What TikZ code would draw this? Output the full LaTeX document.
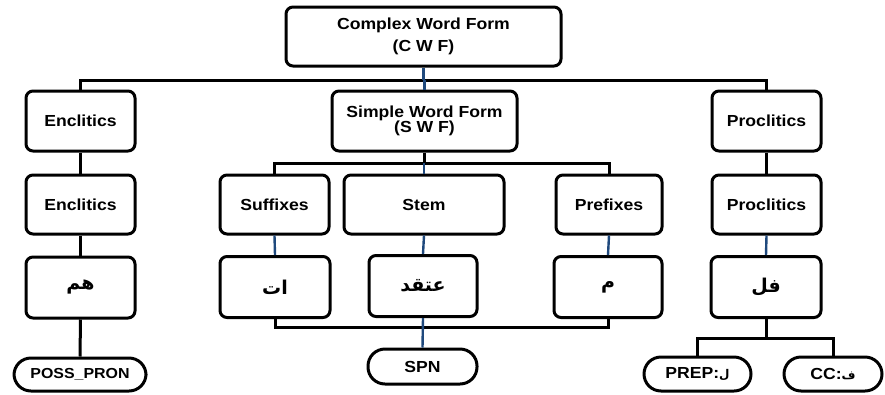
\documentclass[tikz,border=0pt]{standalone}
\usepackage{fontspec}
\setmainfont{Liberation Sans}[FakeStretch=1.1]
\newfontfamily\arabicfont[Script=Arabic]{DejaVu Sans}
\TeXXeTstate=1
\definecolor{navy}{HTML}{1F497D}
\begin{document}
\begin{tikzpicture}[x=1pt,y=-1pt,
  box/.style={draw=black,line width=3pt,rounded corners=7pt,fill=white,
    inner sep=0pt,align=center,font=\fontsize{16}{15}\selectfont\bfseries},
  pill/.style={box,rounded corners=17pt},
  blk/.style={draw=black,line width=3pt},
  blu/.style={draw=navy,line width=2.4pt},
  ar/.style={font=\fontsize{19}{20}\selectfont\arabicfont\bfseries}]
\useasboundingbox (0,0) rectangle (885,394);
% row 0
\node[box,minimum width=275pt,minimum height=59pt,font=\fontsize{16}{22}\selectfont\bfseries] (cwf) at (423.5,36.5)
  {Complex Word Form\\(C W F)};
% row 1
\node[box,minimum width=109pt,minimum height=60pt] (encA) at (80.5,121) {Enclitics};
\node[box,minimum width=185pt,minimum height=60pt] (swf) at (424.5,121) {Simple Word Form\\(S W F)};
\node[box,minimum width=109pt,minimum height=60pt] (proA) at (766.5,121) {Proclitics};
% row 2
\node[box,minimum width=109pt,minimum height=59pt] (encB) at (80.5,204.5) {Enclitics};
\node[box,minimum width=109pt,minimum height=59pt] (suf) at (274.5,204.5) {Suffixes};
\node[box,minimum width=160pt,minimum height=59pt] (stem) at (424,204.5) {Stem};
\node[box,minimum width=106pt,minimum height=59pt] (pre) at (609,204.5) {Prefixes};
\node[box,minimum width=109pt,minimum height=59pt] (proB) at (766.5,204.5) {Proclitics};
% row 3
\node[box,ar,minimum width=109pt,minimum height=61pt] (encC) at (80.5,287.5) {\beginR هم\endR};
\node[box,ar,minimum width=110pt,minimum height=61pt] (sufC) at (275,287) {\beginR ات\endR};
\node[box,ar,minimum width=108pt,minimum height=61pt] (stemC) at (423,286) {\beginR عتقد\endR};
\node[box,ar,minimum width=108pt,minimum height=61pt] (preC) at (608,287) {\beginR م\endR};
\node[box,ar,minimum width=110pt,minimum height=61pt] (proC) at (766,287) {\beginR فل\endR};
% row 4
\node[pill,minimum width=132pt,minimum height=33pt,font=\fontsize{14.5}{16}\selectfont\bfseries] (poss) at (80,374.5) {POSS\_PRON};
\node[pill,minimum width=109pt,minimum height=35pt] (spn) at (422.5,366.5) {SPN};
\node[pill,minimum width=107pt,minimum height=34pt] (prep) at (697.5,374) {PREP:{\fontsize{12}{14}\selectfont\arabicfont\beginR ل\endR}};
\node[pill,minimum width=98pt,minimum height=34pt] (cc) at (833,374) {CC:{\fontsize{12}{14}\selectfont\arabicfont\beginR ف\endR}};
% connectors
\coordinate (topbar) at (425,80);
\draw[blk] (encA.north) |- (topbar) -| (proA.north);
\draw[blu] (cwf.south) -- (cwf.south |- topbar);
\draw[blu] (swf.north) -- (swf.north |- topbar);
\coordinate (swfbar) at (425,163);
\draw[blk] (suf.north) |- (swfbar) -| (pre.north);
\draw[blk] (swf.south) -- (swf.south |- swfbar);
\draw[blu] (stem.north) -- (stem.north |- swfbar);
\draw[blk] (encA.south) -- (encB.north);
\draw[blk] (encB.south) -- (encC.north);
\draw[blk] (encC.south) -- (poss.north);
\draw[blk] (proA.south) -- (proB.north);
\draw[blu] (suf.south) -- (sufC.north);
\draw[blu] (stem.south) -- (stemC.north);
\draw[blu] (pre.south) -- (preC.north);
\draw[blu] (proB.south) -- (proC.north);
\coordinate (rbar) at (425,327);
\draw[blk] (sufC.south) |- (rbar) -| (preC.south);
\draw[blu] (stemC.south) -- (spn.north);
\coordinate (pfork) at (766,338);
\draw[blk] (proC.south) -- (pfork);
\draw[blk] (prep.north) |- (pfork) -| (cc.north);
\end{tikzpicture}
\end{document}
